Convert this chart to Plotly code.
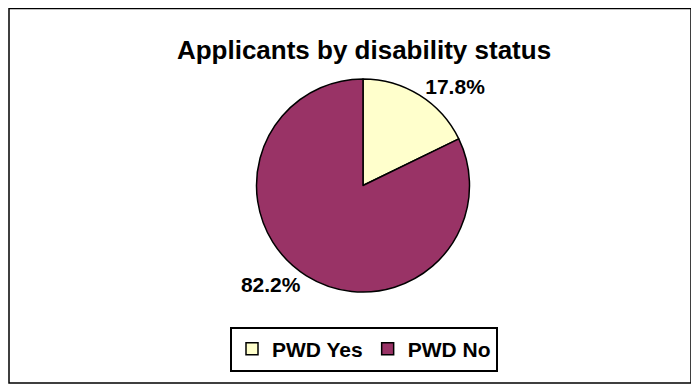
import plotly.graph_objects as go

categories = ["PWD Yes", "PWD No"]
values = [17.8, 82.2]
colors = ["#FFFFCC", "#993366"]

# figure sits at (8,8) in the page because of the default body margin
W, H = 691, 383

fig = go.Figure()
fig.add_trace(go.Pie(
    labels=categories,
    values=values,
    sort=False,
    direction="clockwise",
    rotation=0,
    marker=dict(colors=colors, line=dict(color="black", width=1.5)),
    textinfo="percent",
    texttemplate="<b>%{percent:.1%}</b>",
    textposition="outside",
    textfont=dict(family="Liberation Sans, Arial, sans-serif", size=21, color="black"),
    domain=dict(x=[248 / W, 462 / W], y=[1 - 284 / H, 1 - 71 / H]),
    hoverinfo="label+percent",
    showlegend=True,
))

fig.update_layout(
    width=W, height=H,
    margin=dict(l=0, r=0, t=0, b=0),
    paper_bgcolor="white",
    plot_bgcolor="white",
    font=dict(family="Liberation Sans, Arial, sans-serif", color="black"),
    title=dict(
        text="<b>Applicants by disability status</b>",
        x=356 / W, xanchor="center",
        y=1 - 42 / H, yanchor="middle",
        font=dict(size=26, color="black"),
    ),
    legend=dict(
        orientation="h",
        x=356 / W, xanchor="center",
        y=1 - 341 / H, yanchor="middle",
        bordercolor="black", borderwidth=2,
        bgcolor="white",
        font=dict(size=21, color="black", weight="bold"),
        itemwidth=30,
    ),
    shapes=[dict(
        type="rect", xref="paper", yref="paper",
        x0=1 / W, x1=683 / W, y0=1 - 375 / H, y1=1 - 0.5 / H,
        line=dict(color="black", width=1.5), fillcolor="rgba(0,0,0,0)",
    )],
)

fig.write_html("out.html")
